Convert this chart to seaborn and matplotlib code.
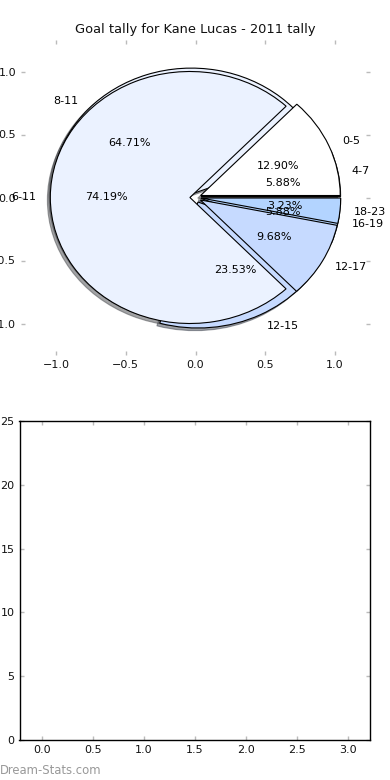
import matplotlib
matplotlib.use("Agg")
import matplotlib.pyplot as plt
import seaborn as sns

# Data
labels_a = ["4-7", "8-11", "12-15", "16-19"]
values_a = [5.88, 64.71, 23.53, 5.88]
labels_b = ["0-5", "6-11", "12-17", "18-23"]
values_b = [12.90, 74.19, 9.68, 3.23]
wedge_colors = ["#FFFFFF", "#EBF2FF", "#C6DAFF", "#B3D4FF"]
title = "Goal tally for Kane Lucas - 2011 tally"
pie_ticks = [-1.0, -0.5, 0.0, 0.5, 1.0]
bar_xticks = [0.0, 0.5, 1.0, 1.5, 2.0, 2.5, 3.0]
bar_yticks = [0, 5, 10, 15, 20, 25]

sns.set_theme(style="white")
plt.rcParams["font.family"] = ["DejaVu Sans"]
plt.rcParams.update({
    "xtick.direction": "in", "ytick.direction": "in",
    "xtick.top": True, "ytick.right": True,
    "xtick.bottom": True, "ytick.left": True,
    "xtick.color": "#bbbbbb", "ytick.color": "#bbbbbb",
    "xtick.labelcolor": "#111111", "ytick.labelcolor": "#111111",
    "xtick.major.size": 3, "ytick.major.size": 3,
    "xtick.major.width": 1, "ytick.major.width": 1,
    "xtick.labelsize": 8, "ytick.labelsize": 8,
})

fig = plt.figure(figsize=(3.9, 7.8), dpi=100)
ax1 = fig.add_axes([21/390, 1 - 355/780, (370-21)/390, (355-40)/780])
ax2 = fig.add_axes([19.5/390, 1 - 740/780, (370-19.5)/390, (740-421)/780])

ex = 0.04
for vals, labs in ((values_a, labels_a), (values_b, labels_b)):
    ax1.pie(vals, labels=labs, colors=wedge_colors, autopct="%1.2f%%",
            explode=[ex]*len(vals),
            shadow={"ox": -0.015, "oy": -0.015, "shade": 0.7},
            wedgeprops=dict(edgecolor="black", linewidth=0.8),
            textprops=dict(fontsize=8, color="black"), frame=True)
ax1.set_aspect("auto")
ax1.set_xlim(-1.25, 1.25)
ax1.set_ylim(-1.25, 1.25)
ax1.set_xticks(pie_ticks)
ax1.set_yticks(pie_ticks)
for s in ax1.spines.values():
    s.set_visible(False)
ax1.set_title(title, fontsize=9.4, pad=5, color="#111111")

ax2.set_xlim(-0.22, 3.22)
ax2.set_ylim(0, 25)
ax2.set_xticks(bar_xticks)
ax2.set_yticks(bar_yticks)
for s in ax2.spines.values():
    s.set_visible(True)
    s.set_color("black")
    s.set_linewidth(1)

fig.text(0.0, 1 - 770/780, "Dream-Stats.com", color="#999999", fontsize=8.4,
         va="center", ha="left")

fig.savefig("out.png", dpi=100)
